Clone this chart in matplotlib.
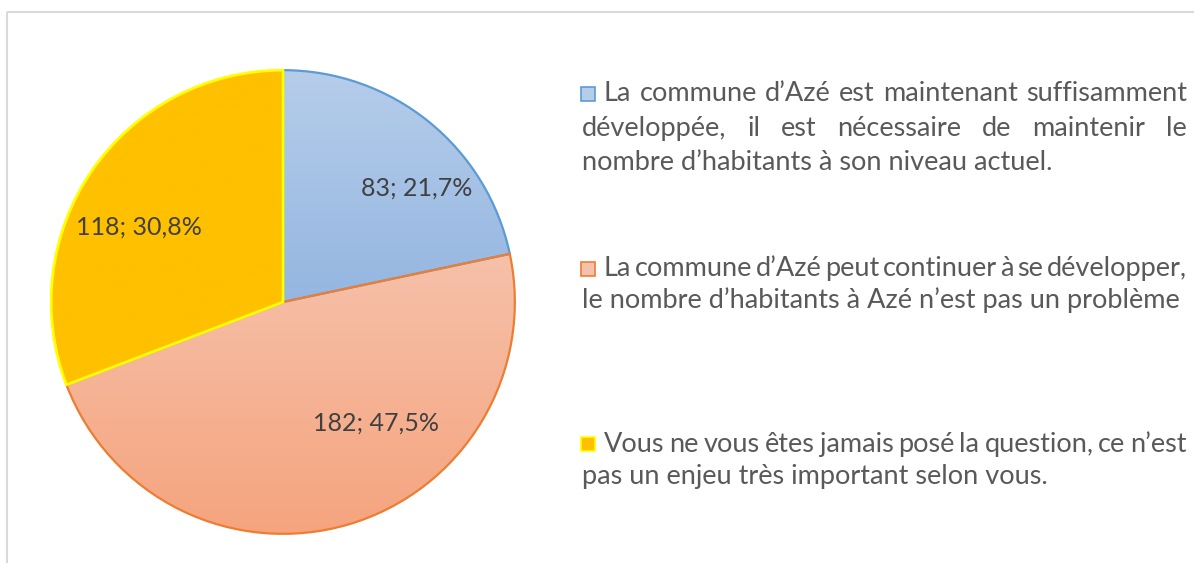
import matplotlib.pyplot as plt
import numpy as np
from matplotlib.colors import LinearSegmentedColormap
from matplotlib.patches import Rectangle, PathPatch

# data
counts = [83, 182, 118]
pct_labels = ['83; 21,7%', '182; 47,5%', '118; 30,8%']
legend_lines = [
    ["La commune d’Azé est maintenant suffisamment",
     "développée, il est nécessaire de maintenir le",
     "nombre d’habitants à son niveau actuel."],
    ["La commune d’Azé peut continuer à se développer,",
     "le nombre d’habitants à Azé n’est pas un problème"],
    ["Vous ne vous êtes jamais posé la question, ce n’est",
     "pas un enjeu très important selon vous."],
]

# styles
grad_top = ['#b6cdea', '#f6c1aa', '#ffc000']
grad_bottom = ['#94b6e1', '#f5a47e', '#ffc000']
edge_colors = ['#5b9bd5', '#ed7d31', '#ffff00']
label_pos = [(0.575, 0.49), (0.40, -0.524), (-0.622, 0.322)]
FONT = 'Lato'

W, H = 1194, 563
fig = plt.figure(figsize=(W / 100, H / 100), dpi=100)

# overlay axes in pixel units
ov = fig.add_axes([0, 0, 1, 1])
ov.set_xlim(0, W)
ov.set_ylim(H, 0)
ov.axis('off')
ov.add_patch(Rectangle((7, 12), 1400, 800, fill=False, ec='#d9d9d9', lw=1.5))

# pie
ax = fig.add_axes([50 / W, 28 / H, 466 / W, 466 / H])
wedges, _ = ax.pie(counts, radius=1, startangle=90, counterclock=False,
                   colors=grad_bottom, wedgeprops=dict(linewidth=0))
grad = np.linspace(0, 1, 256).reshape(-1, 1)
for i, w in enumerate(wedges):
    ext = w.get_path().get_extents()
    cmap = LinearSegmentedColormap.from_list('g%d' % i, [grad_top[i], grad_bottom[i]])
    im = ax.imshow(grad, cmap=cmap, aspect='auto', origin='upper',
                   extent=(ext.x0, ext.x1, ext.y0, ext.y1), zorder=2)
    im.set_clip_path(w)
for i, w in enumerate(wedges):
    ax.add_patch(PathPatch(w.get_path(), fill=False, ec=edge_colors[i],
                           lw=1.6 if i < 2 else 2.0, zorder=3 + i))
for (x, y), lab in zip(label_pos, pct_labels):
    ax.text(x, y, lab, ha='center', va='center', fontsize=18,
            color='#404040', family=FONT, zorder=10)
ax.set_xlim(-1.005, 1.005)
ax.set_ylim(-1.005, 1.005)
ax.axis('off')

# legend with justified text
renderer = fig.canvas.get_renderer()
kw = dict(fontsize=19.5, color='#595959', family=FONT, va='baseline')
x_first, x_cont, x_right = 604, 582, 1187
marker_y = [94, 269, 444]
baselines = [[101, 136, 170], [276, 308], [452, 484]]

for k, lines in enumerate(legend_lines):
    ov.add_patch(Rectangle((581, marker_y[k] - 7), 14, 14, fc=grad_top[k] if k < 2 else '#ffc000',
                           ec=edge_colors[k], lw=1.2))
    for j, line in enumerate(lines):
        x0 = x_first if j == 0 else x_cont
        y = baselines[k][j]
        if j == len(lines) - 1:
            ov.text(x0, y, line, ha='left', **kw)
            continue
        words = line.split(' ')
        texts = [ov.text(0, y, wd, ha='left', **kw) for wd in words]
        widths = [t.get_window_extent(renderer).width for t in texts]
        gap = (x_right - x0 - sum(widths)) / (len(words) - 1)
        x = x0
        for t, wd in zip(texts, widths):
            t.set_x(x)
            x += wd + gap

fig.savefig('out.png', dpi=100)
